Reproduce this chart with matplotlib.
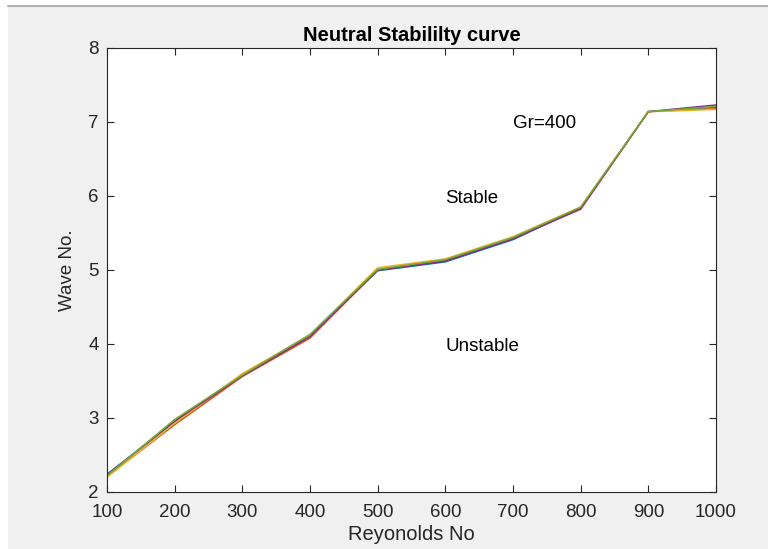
import matplotlib
matplotlib.use("Agg")
import matplotlib.pyplot as plt
from matplotlib.patches import Rectangle
from matplotlib.lines import Line2D

plt.rcParams['font.family'] = ['Liberation Sans', 'DejaVu Sans']

reynolds = [100, 200, 300, 400, 500, 600, 700, 800, 900, 1000]
wave_blue   = [2.24, 2.95, 3.57, 4.11, 4.99, 5.11, 5.41, 5.84, 7.14, 7.20]
wave_orange = [2.21, 2.91, 3.56, 4.08, 5.00, 5.13, 5.43, 5.82, 7.14, 7.18]
wave_yellow = [2.20, 2.93, 3.60, 4.12, 5.03, 5.15, 5.45, 5.85, 7.14, 7.17]
wave_purple = [2.23, 2.96, 3.57, 4.10, 5.00, 5.12, 5.42, 5.83, 7.14, 7.23]
wave_green  = [2.22, 2.98, 3.58, 4.13, 5.01, 5.14, 5.44, 5.85, 7.14, 7.21]

series = [
    (wave_blue,   (0.0, 0.447, 0.741)),
    (wave_orange, (0.85, 0.325, 0.098)),
    (wave_yellow, (0.929, 0.694, 0.125)),
    (wave_purple, (0.494, 0.184, 0.556)),
    (wave_green,  (0.466, 0.674, 0.188)),
]

W, H = 768, 549
fig = plt.figure(figsize=(W / 100, H / 100), dpi=100, facecolor='white')
# MATLAB-like gray window background
fig.patches.append(Rectangle((8 / W, 0), 1 - 8 / W, 1 - 6 / H, transform=fig.transFigure,
                             facecolor='#f0f0f0', edgecolor='none', zorder=-10))
fig.lines.append(Line2D([8 / W, 1], [1 - 6 / H, 1 - 6 / H], transform=fig.transFigure,
                        color='#a0a0a0', lw=1.2, zorder=-9))

ax = fig.add_axes([107 / W, 57 / H, 609 / W, 444 / H])
ax.set_facecolor('white')

for ys, c in series:
    ax.plot(reynolds, ys, color=c, lw=1.1)

ax.set_xlim(100, 1000)
ax.set_ylim(2, 8)
ax.set_xticks(reynolds)
ax.set_yticks([2, 3, 4, 5, 6, 7, 8])

dark = (0.15, 0.15, 0.15)
for s in ax.spines.values():
    s.set_color(dark)
    s.set_linewidth(0.8)
ax.tick_params(direction='in', top=True, right=True, length=5, width=0.8,
               colors=dark, labelsize=13.5)
ax.tick_params(axis='x', pad=8.5)
ax.tick_params(axis='y', pad=6)

ax.set_title('Neutral Stabililty curve', fontsize=14.5, fontweight='bold', color='black', pad=5)
ax.set_xlabel('Reyonolds No', fontsize=14.5, color=dark, labelpad=3)
ax.set_ylabel('Wave No.', fontsize=13.5, color=dark, labelpad=9)

ax.text(700, 6.98, 'Gr=400', fontsize=13.5, color='black', va='center', ha='left')
ax.text(600, 5.97, 'Stable', fontsize=13.5, color='black', va='center', ha='left')
ax.text(600, 3.97, 'Unstable', fontsize=13.5, color='black', va='center', ha='left')

fig.savefig('out.png', dpi=100, facecolor=fig.get_facecolor())
